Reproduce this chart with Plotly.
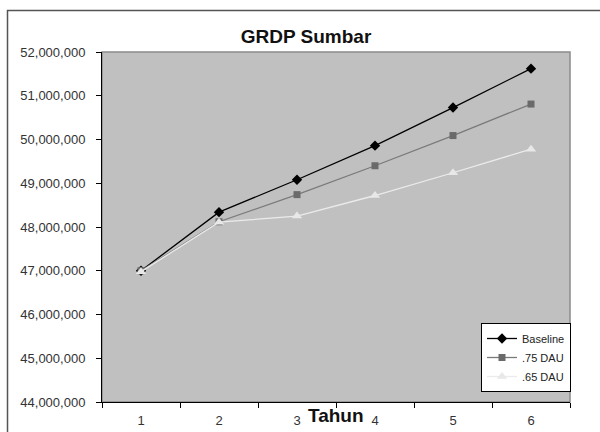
import plotly.graph_objects as go

years = ["1", "2", "3", "4", "5", "6"]
baseline = [47000000, 48340000, 49080000, 49860000, 50730000, 51620000]
dau75 = [47000000, 48120000, 48740000, 49400000, 50090000, 50810000]
dau65 = [46980000, 48110000, 48250000, 48720000, 49240000, 49780000]
y_ticks = [44000000, 45000000, 46000000, 47000000, 48000000, 49000000, 50000000, 51000000, 52000000]

W, H = 600, 432
L, R, T, B = 102, 30, 52, 30
pw, ph = W - L - R, H - T - B

def px2x(p):
    return (p - L) / pw

def px2y(p):
    return (H - B - p) / ph

fig = go.Figure()
fig.add_trace(go.Scatter(x=years, y=baseline, name="Baseline", mode="lines+markers",
                         line=dict(color="#000000", width=1.3),
                         marker=dict(symbol="diamond", size=8, color="#000000")))
fig.add_trace(go.Scatter(x=years, y=dau75, name=".75 DAU", mode="lines+markers",
                         line=dict(color="#7a7a7a", width=1.3),
                         marker=dict(symbol="square", size=7, color="#6a6a6a")))
fig.add_trace(go.Scatter(x=years, y=dau65, name=".65 DAU", mode="lines+markers",
                         line=dict(color="#ebebeb", width=1.3),
                         marker=dict(symbol="triangle-up", size=9, color="#e8e8e8")))

fig.update_layout(
    width=W, height=H,
    margin=dict(l=L, r=R, t=T, b=B, autoexpand=False),
    paper_bgcolor="white",
    plot_bgcolor="#c0c0c0",
    font=dict(family="Arial, Liberation Sans, sans-serif", color="#333333"),
    title=dict(text="<b>GRDP Sumbar</b>", x=306 / W, xanchor="center",
               y=1 - 36 / H, yanchor="middle", font=dict(size=19, color="#111111"),
               automargin=False),
    xaxis=dict(type="category", range=[-0.5, 5.5], tickson="boundaries", ticks="outside",
               ticklen=5, tickcolor="#000000", showline=True, linecolor="#000000",
               linewidth=1, showgrid=False, zeroline=False, automargin=False,
               tickfont=dict(size=13, color="#333333"), ticklabelstandoff=6),
    yaxis=dict(range=[44000000, 52000000], tickvals=y_ticks, tickformat=",d",
               ticks="outside", ticklen=5, tickcolor="#000000", showline=True,
               linecolor="#000000", linewidth=1, showgrid=False, zeroline=False,
               automargin=False,
               tickfont=dict(size=13, color="#333333"), ticklabelstandoff=8),
    legend=dict(x=px2x(571), xanchor="right", y=px2y(392), yanchor="bottom",
                bgcolor="white", bordercolor="#000000", borderwidth=1,
                font=dict(size=11, color="#222222"), itemwidth=30),
    showlegend=True,
)

fig.add_annotation(text="<b>Tahun</b>", xref="paper", yref="paper", x=0.5, y=px2y(415),
                   xanchor="center", yanchor="middle", showarrow=False,
                   font=dict(size=19, color="#111111"))

# plot area border (gray)
fig.add_shape(type="rect", xref="paper", yref="paper", x0=0, x1=1, y0=0, y1=1,
              line=dict(color="#8a8a8a", width=1.5), layer="below")
# outer chart border
fig.add_shape(type="rect", xref="paper", yref="paper", x0=px2x(7.5), x1=px2x(606),
              y0=px2y(440), y1=px2y(10.5), line=dict(color="#555555", width=1.5))

fig.write_html("out.html")
